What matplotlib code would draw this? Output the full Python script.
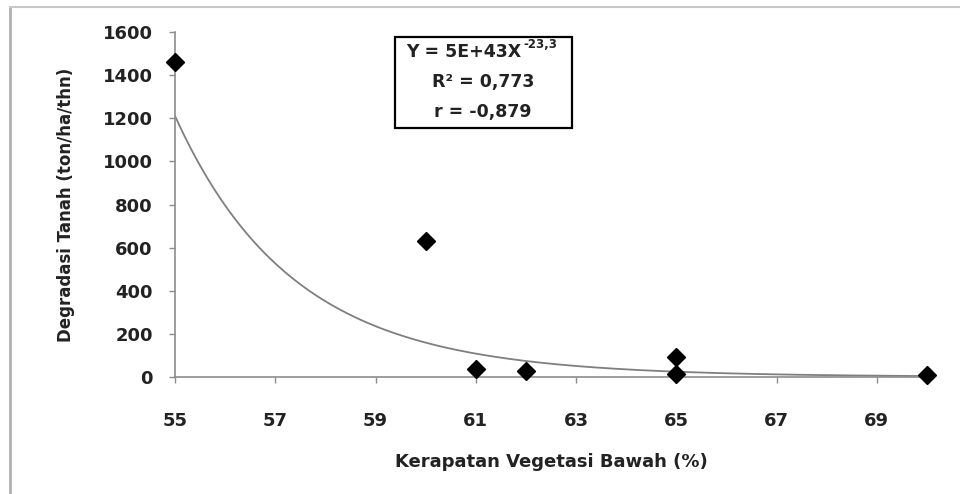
import numpy as np
import matplotlib
matplotlib.use("Agg")
import matplotlib.pyplot as plt
from matplotlib.lines import Line2D
from matplotlib.patches import Rectangle

# data
vegetasi = [55, 60, 61, 62, 65, 65, 70]          # Kerapatan Vegetasi Bawah (%)
degradasi = [1460, 630, 35, 28, 92, 14, 8]       # Degradasi Tanah (ton/ha/thn)
x_ticks = [55, 57, 59, 61, 63, 65, 67, 69]
y_ticks = [0, 200, 400, 600, 800, 1000, 1200, 1400, 1600]
# power trendline as drawn (Y = a * X^b)
trend_a = 4.3e43
trend_b = -23.3
eq_main = "Y = 5E+43X"
eq_exp = "-23,3"
r2_text = "R\u00b2 = 0,773"
r_text = "r = -0,879"

plt.rcParams["font.family"] = ["DejaVu Sans"]
plt.rcParams["font.weight"] = "bold"

TXT = "#222222"
AXC = "#8c8c8c"

fig = plt.figure(figsize=(9.6, 4.94), dpi=100)
ax = fig.add_axes([0.1823, 0.2368, 0.7833, 0.6984])

xs = np.linspace(55, 70, 300)
ax.plot(xs, trend_a * xs ** trend_b, color="#7f7f7f", lw=1.3, zorder=1)

ax.plot(vegetasi, degradasi, "D", color="black", ms=9, ls="none",
        zorder=3, clip_on=False)

ax.set_xlim(55, 70)
ax.set_ylim(0, 1600)
ax.set_xticks(x_ticks)
ax.set_yticks(y_ticks)
ax.tick_params(labelsize=13, colors=AXC, labelcolor=TXT,
               length=4, width=1, direction="out")
for lbl in ax.get_xticklabels() + ax.get_yticklabels():
    lbl.set_fontweight("bold")
ax.tick_params(axis="x", pad=21)
ax.tick_params(axis="y", pad=12)

for side in ("top", "right"):
    ax.spines[side].set_visible(False)
for side in ("left", "bottom"):
    ax.spines[side].set_color(AXC)
    ax.spines[side].set_linewidth(1.2)

ax.set_xlabel("Kerapatan Vegetasi Bawah (%)", fontsize=13, fontweight="bold",
              color=TXT, labelpad=17)
ax.set_ylabel("Degradasi Tanah (ton/ha/thn)", fontsize=12, fontweight="bold",
              color=TXT, labelpad=20)

# equation box
ax.add_patch(Rectangle((0.2926, 0.7217), 0.2353, 0.2638, transform=ax.transAxes,
                       fc="white", ec="black", lw=1.6, zorder=4, clip_on=False))
t1 = ax.text(0.3843, 0.942, eq_main, transform=ax.transAxes, ha="center",
             va="center", fontsize=12.5, fontweight="bold", color=TXT, zorder=5)
ax.annotate(eq_exp, xy=(1, 0.55), xycoords=t1, xytext=(1, 0),
            textcoords="offset points", ha="left", va="bottom", fontsize=8.5,
            fontweight="bold", color=TXT, zorder=5)
ax.text(0.4096, 0.855, r2_text, transform=ax.transAxes, ha="center",
        va="center", fontsize=12.5, fontweight="bold", color=TXT, zorder=5)
ax.text(0.4096, 0.768, r_text, transform=ax.transAxes, ha="center",
        va="center", fontsize=12.5, fontweight="bold", color=TXT, zorder=5)

# outer frame of the picture (left and top only)
fig.add_artist(Line2D([10 / 960, 10 / 960], [0, 1 - 7 / 494],
                      transform=fig.transFigure, color="#b0b0b0", lw=2))
fig.add_artist(Line2D([10 / 960, 1], [1 - 7 / 494, 1 - 7 / 494],
                      transform=fig.transFigure, color="#c8c8c8", lw=1.5))

fig.savefig("out.png", dpi=100)
